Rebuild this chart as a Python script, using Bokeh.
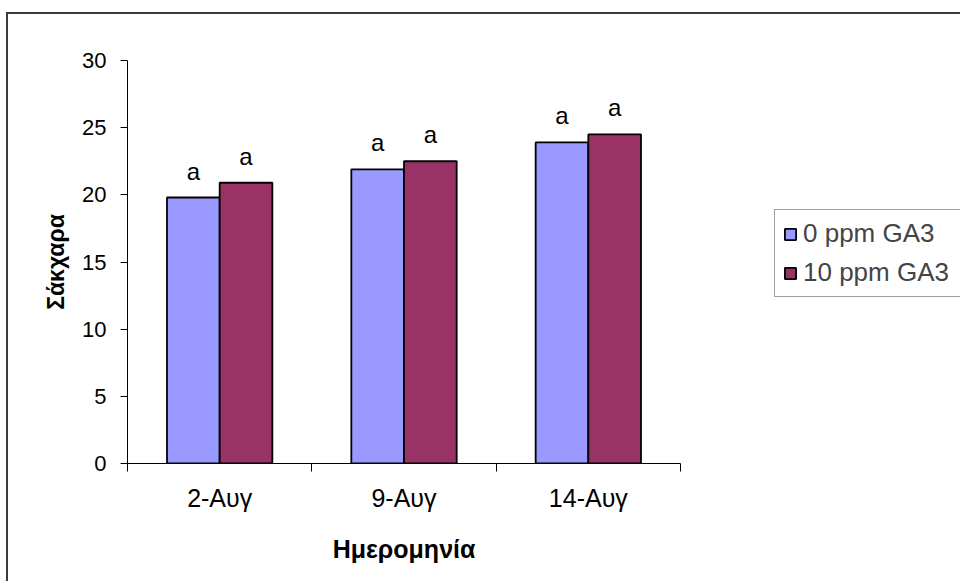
from bokeh.plotting import figure
from bokeh.models import (Range1d, FixedTicker, Legend, LegendItem, ColumnDataSource,
                          LabelSet)
from bokeh.core.properties import value
from bokeh.transform import dodge
from bokeh.embed import file_html
from bokeh.resources import INLINE

# ---- data ----
categories = ["2-Αυγ", "9-Αυγ", "14-Αυγ"]
series_names = ["0 ppm GA3", "10 ppm GA3"]
sugar_0ppm = [19.8, 21.9, 23.9]
sugar_10ppm = [20.9, 22.5, 24.5]
letters_0ppm = ["a", "a", "a"]
letters_10ppm = ["a", "a", "a"]
y_ticks = [0, 5, 10, 15, 20, 25, 30]
y_title = "Σάκχαρα"
x_title = "Ημερομηνία"

colors = ["#9999FF", "#993366"]
FONT = "Liberation Sans"

centers = [i + 0.5 for i in range(len(categories))]
bar_w = 1 / 3.5  # Excel gap width 150%

src = ColumnDataSource(dict(x=centers, cat=categories,
                            v0=sugar_0ppm, v1=sugar_10ppm,
                            l0=letters_0ppm, l1=letters_10ppm))

p = figure(frame_width=553, frame_height=403,
           min_border_left=119, min_border_top=46, min_border_right=279,
           min_border_bottom=118,
           x_range=Range1d(0, len(categories)), y_range=Range1d(0, 30),
           output_backend="svg", toolbar_location=None)
# outer chart-area border (left/top edges visible in the crop)
p.styles = {"margin-left": "6px", "margin-top": "12px",
            "border-left": "2px solid #3c3c3c", "border-top": "2px solid #3c3c3c"}
p.outline_line_color = None
p.xgrid.visible = False
p.ygrid.visible = False

r0 = p.vbar(x=dodge("x", -bar_w / 2, range=p.x_range), top="v0", width=bar_w,
            source=src, fill_color=colors[0], line_color="black", line_width=1.8)
r1 = p.vbar(x=dodge("x", bar_w / 2, range=p.x_range), top="v1", width=bar_w,
            source=src, fill_color=colors[1], line_color="black", line_width=1.8)

for col, txt, off in (("v0", "l0", -bar_w / 2), ("v1", "l1", bar_w / 2)):
    lab = LabelSet(x=dodge("x", off, range=p.x_range), y=col, text=txt, source=src,
                   y_offset=18, text_align="center", text_baseline="alphabetic",
                   text_font=value(FONT), text_font_size="24px", text_color="black")
    p.add_layout(lab)

# x axis: category labels at centres, ticks between categories
xt = FixedTicker(ticks=centers, minor_ticks=list(range(len(categories) + 1)))
p.xaxis.ticker = xt
p.xaxis.major_label_overrides = {c: n for c, n in zip(centers, categories)}
p.xaxis.major_tick_out = 0
p.xaxis.major_tick_in = 0
p.xaxis.minor_tick_out = 8
p.xaxis.minor_tick_in = 0
p.xaxis.minor_tick_line_color = "black"
p.xaxis.axis_line_color = "black"
p.xaxis.major_label_standoff = 12
p.xaxis.major_label_text_font = FONT
p.xaxis.major_label_text_font_size = "25px"
p.xaxis.major_label_text_color = "black"
p.xaxis.axis_label = x_title
p.xaxis.axis_label_text_font = FONT
p.xaxis.axis_label_text_font_style = "bold"
p.xaxis.axis_label_text_font_size = "25px"
p.xaxis.axis_label_text_color = "black"
p.xaxis.axis_label_standoff = 20

p.yaxis.ticker = FixedTicker(ticks=y_ticks)
p.yaxis.major_tick_out = 7
p.yaxis.major_tick_in = 0
p.yaxis.minor_tick_line_color = None
p.yaxis.axis_line_color = "black"
p.yaxis.major_tick_line_color = "black"
p.yaxis.major_label_standoff = 14
p.yaxis.major_label_text_font = FONT
p.yaxis.major_label_text_font_size = "22px"
p.yaxis.major_label_text_color = "black"
p.yaxis.axis_label = y_title
p.yaxis.axis_label_text_font = FONT
p.yaxis.axis_label_text_font_style = "bold"
p.yaxis.axis_label_text_font_size = "23px"
p.yaxis.axis_label_text_color = "black"
p.yaxis.axis_label_standoff = 10

legend = Legend(items=[LegendItem(label=series_names[0], renderers=[r0]),
                       LegendItem(label=series_names[1], renderers=[r1])],
                location=(94, 166), orientation="vertical",
                glyph_width=14, glyph_height=14, label_standoff=6,
                label_text_font=FONT, label_text_font_size="26px",
                label_height=30, label_width=150, spacing=8, padding=8, margin=0,
                border_line_color="#404040", border_line_width=1.5,
                background_fill_color="white", background_fill_alpha=1)
p.add_layout(legend, "right")

open("out.html", "w").write(file_html(p, INLINE))
